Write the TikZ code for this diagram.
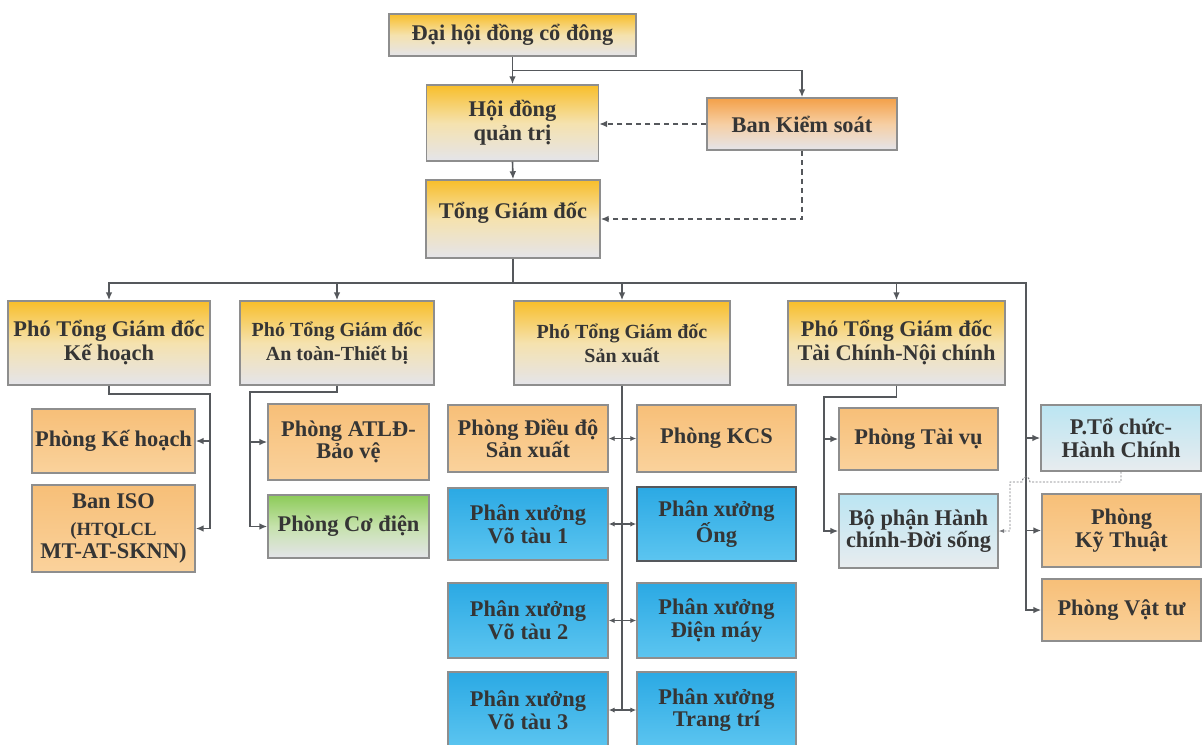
\documentclass[tikz,border=0pt]{standalone}
\usepackage{fontspec}
\setmainfont{Liberation Serif}
\usetikzlibrary{arrows.meta}
\definecolor{txt}{HTML}{353535}
\definecolor{ln}{HTML}{55585C}
\definecolor{bd}{HTML}{8E8E8E}
\definecolor{goldT}{HTML}{F8BE2A}
\definecolor{goldM}{HTML}{F5E2AE}
\definecolor{grayB}{HTML}{E4E4EA}
\definecolor{orT}{HTML}{F7BF78}
\definecolor{orB}{HTML}{FAD29C}
\definecolor{bluT}{HTML}{2BA9E4}
\definecolor{bluB}{HTML}{5CC5F0}
\definecolor{lbT}{HTML}{BBE5F2}
\definecolor{lbB}{HTML}{E8ECEF}
\definecolor{bksT}{HTML}{F4A048}
\definecolor{bksM}{HTML}{F6CFA4}
\definecolor{grT}{HTML}{8CCB58}
\definecolor{grM}{HTML}{C6E2AC}
\tikzset{
  box/.style={draw=bd, line width=1.1pt, align=center, text=txt,
    font=\bfseries\fontsize{16.8}{17}\selectfont, inner sep=2pt},
  gold/.style={box, top color=goldT, bottom color=grayB, middle color=goldM,
    font=\bfseries\fontsize{16.8}{18}\selectfont},
  smallgold/.style={gold, font=\bfseries\fontsize{15}{18}\selectfont},
  bksbox/.style={box, top color=bksT, bottom color=grayB, middle color=bksM},
  orbox/.style={box, top color=orT, bottom color=orB},
  blubox/.style={box, top color=bluT, bottom color=bluB},
  lbbox/.style={box, top color=lbT, bottom color=lbB},
  grbox/.style={box, top color=grT, bottom color=grayB, middle color=grM},
  conn/.style={draw=ln, line width=1.2pt},
  arr/.style={-{Latex[length=6pt,width=5pt]}},
  dsh/.style={draw=ln, line width=1.1pt, dash pattern=on 4pt off 3pt},
  dotline/.style={draw=ln!80, line width=0.7pt, dash pattern=on 1.5pt off 1.2pt,
    -{Latex[length=4pt,width=3pt]}},
  biarr/.style={draw=ln, line width=1pt,
    {Latex[length=4.5pt,width=4pt]}-{Latex[length=4.5pt,width=4pt]}}
}
\begin{document}
\begin{tikzpicture}[x=0.75pt,y=-0.75pt]
\useasboundingbox (0,0) rectangle (1202,744);
\fill[white] (0,0) rectangle (1202,744);
\clip (0,0) rectangle (1202,744);

% top
\node[gold, minimum width=185.25pt, minimum height=31.5pt] (dh) at (512.5,35) {Đại hội đồng cổ đông};
\node[gold, minimum width=129pt, minimum height=57pt] (hdqt) at (512.5,123) {Hội đồng\\quản trị};
\node[bksbox, minimum width=142.5pt, minimum height=39pt] (bks) at (802,124) {Ban Kiểm soát};
\node[gold, minimum width=130.5pt, minimum height=58.5pt, text depth=13pt] (tgd) at (513,219) {Tổng Giám đốc};

% deputies
\node[gold, minimum width=151.5pt, minimum height=63pt] (p1) at (109,343) {Phó Tổng Giám đốc\\Kế hoạch};
\node[smallgold, minimum width=145.5pt, minimum height=63pt] (p2) at (337,343) {Phó Tổng Giám đốc\\An toàn-Thiết bị};
\node[smallgold, minimum width=162pt, minimum height=63pt] (p3) at (622,343) {Phó Tổng Giám đốc\\Sản xuất};
\node[gold, minimum width=162.75pt, minimum height=63pt] (p4) at (896.5,343) {Phó Tổng Giám đốc\\Tài Chính-Nội chính};

% P1 branch
\node[orbox, minimum width=122.25pt, minimum height=48pt] (pkh) at (113.5,441) {Phòng Kế hoạch};
\node[orbox, minimum width=122.25pt, minimum height=65.25pt] (iso) at (113.5,528.5) {Ban ISO\\[3pt]\fontsize{14}{15}\selectfont(HTQLCL\\MT-AT-SKNN)};

% P2 branch
\node[orbox, minimum width=120.75pt, minimum height=57pt] (atld) at (348.5,442) {Phòng ATLĐ-\\Bảo vệ};
\node[grbox, minimum width=120.75pt, minimum height=47.25pt] (cd) at (348.5,526.5) {Phòng Cơ điện};

% P3 branch
\node[orbox, minimum width=120pt, minimum height=50.25pt] (dd) at (528,438.5) {Phòng Điều độ\\Sản xuất};
\node[orbox, minimum width=119.25pt, minimum height=50.25pt] (kcs) at (716.5,438.5) {Phòng KCS};
\node[blubox, minimum width=120pt, minimum height=54pt] (vt1) at (528,524) {Phân xưởng\\Võ tàu 1};
\node[blubox, minimum width=119.25pt, minimum height=55.5pt, draw=ln] (ong) at (716.5,524) {Phân xưởng\\Ống};
\node[blubox, minimum width=120pt, minimum height=56.25pt] (vt2) at (528,620.5) {Phân xưởng\\Võ tàu 2};
\node[blubox, minimum width=119.25pt, minimum height=56.25pt] (dm) at (716.5,620.5) {Phân xưởng\\Điện máy};
\node[blubox, minimum width=120pt, minimum height=57pt] (vt3) at (528,710) {Phân xưởng\\Võ tàu 3};
\node[blubox, minimum width=119.25pt, minimum height=57pt] (tt) at (716.5,710) {Phân xưởng\\Trang trí};

% P4 branch
\node[orbox, minimum width=119.25pt, minimum height=46.5pt] (tv) at (918.5,439) {Phòng Tài vụ};
\node[lbbox, minimum width=119.25pt, minimum height=55.5pt] (bp) at (918.5,531) {Bộ phận Hành\\chính-Đời sống};

% right column
\node[lbbox, minimum width=120pt, minimum height=49.5pt] (tc) at (1121,438) {P.Tổ chức-\\Hành Chính};
\node[orbox, minimum width=119.25pt, minimum height=54.75pt] (kt) at (1121.5,530.5) {Phòng\\Kỹ Thuật};
\node[orbox, minimum width=119.25pt, minimum height=46.5pt] (vt) at (1121.5,610) {Phòng Vật tư};

% connectors top
\coordinate (j1) at (512.5,70.6);
\draw[conn,arr] (dh.south) -- (hdqt.north);
\draw[conn,arr] (j1) -| (bks.north);
\draw[dsh,arr] (bks.west) -- (bks.west -| hdqt.east);
\draw[dsh,arr] (bks.south) |- (tgd.east);
\draw[conn,arr] (hdqt.south) -- (tgd.north);

% bus
\coordinate (bus) at (513,283);
\coordinate (rb) at (1026,283);
\draw[conn] (tgd.south) -- (bus);
\draw[conn,arr] (rb) -- (p1.north |- bus) -- (p1.north);
\draw[conn,arr] (p1.north |- bus) -- (rb) -- (rb |- vt.west) -- (vt.west);
\draw[conn,arr] (p2.north |- bus) -- (p2.north);
\draw[conn,arr] (p3.north |- bus) -- (p3.north);
\draw[conn,arr] (p4.north |- bus) -- (p4.north);
\draw[conn,arr] (rb |- tc.west) -- (tc.west);
\draw[conn,arr] (rb |- kt.west) -- (kt.west);

% P1
\coordinate (k1) at (210,394);
\draw[conn,arr] (p1.south) |- (k1) |- (iso.east);
\draw[conn,arr] (k1 |- pkh.east) -- (pkh.east);

% P2
\coordinate (k2) at (250,392);
\draw[conn,arr] (p2.south) |- (k2) |- (cd.west);
\draw[conn,arr] (k2 |- atld.west) -- (atld.west);

% P3
\draw[conn] (p3.south) -- (p3.south |- vt3.east);
\draw[biarr] (dd.east) -- (kcs.west);
\draw[biarr] (vt1.east) -- (ong.west);
\draw[biarr] (vt2.east) -- (dm.west);
\draw[biarr] (vt3.east) -- (tt.west);

% P4
\coordinate (k4) at (824,397);
\draw[conn,arr] (p4.south) |- (k4) |- (bp.west);
\draw[conn,arr] (k4 |- tv.west) -- (tv.west);

% dotted link
\draw[dotline] (tc.south) -- (1121,482) -- (1030,482)
  .. controls (1029,475) and (1023,475) .. (1022,482)
  -- (1010,482) -- (1010,531) -- (bp.east);
\end{tikzpicture}
\end{document}
